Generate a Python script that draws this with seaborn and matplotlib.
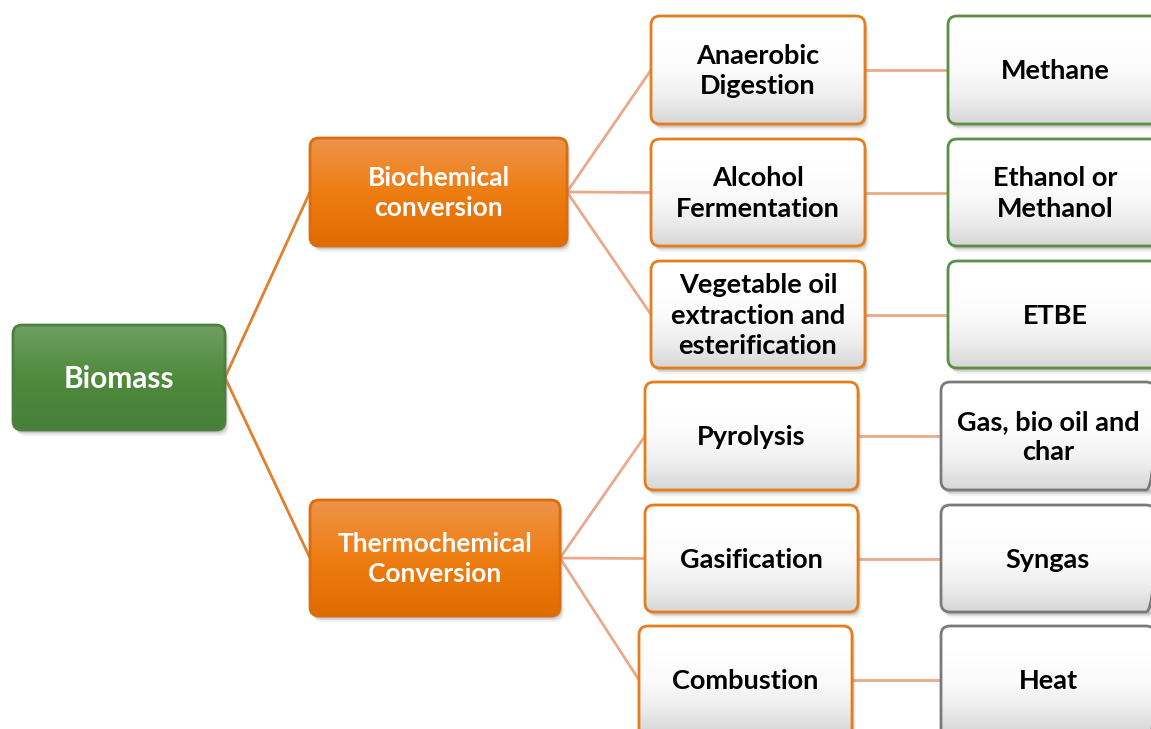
#!/usr/bin/env python3
"""Biomass conversion routes diagram"""

import numpy as np
import matplotlib
matplotlib.use('Agg')
import matplotlib.pyplot as plt
from matplotlib.patches import FancyBboxPatch
from matplotlib.colors import LinearSegmentedColormap
import seaborn as sns

# labels
root_label = 'Biomass'
route_labels = ['Biochemical\nconversion', 'Thermochemical\nConversion']
process_labels = ['Anaerobic\nDigestion', 'Alcohol\nFermentation',
                  'Vegetable oil\nextraction and\nesterification',
                  'Pyrolysis', 'Gasification', 'Combustion']
product_labels = ['Methane', 'Ethanol or\nMethanol', 'ETBE',
                  'Gas, bio oil and\nchar', 'Syngas', 'Heat']
process_route = [0, 0, 0, 1, 1, 1]

sns.set_theme(style='white')
plt.rcParams['font.family'] = ['Lato', 'DejaVu Sans']

W, H = 1151, 729
fig = plt.figure(figsize=(W / 100, H / 100), dpi=100)
ax = fig.add_axes([0, 0, 1, 1])
ax.set_xlim(0, W)
ax.set_ylim(H, 0)
ax.axis('off')

# box layout in pixel coords (x0, y0, x1, y1); last row runs off the page
root_box = (13, 325, 225, 430)
route_boxes = [(310, 138, 567, 246), (310, 500, 560, 616)]
process_boxes = [(651, 16, 865, 124), (651, 139, 865, 246), (651, 261, 865, 368),
                 (645, 382, 858, 490), (645, 505, 858, 612), (639, 626, 852, 750)]
product_boxes = [(948, 16, 1162, 124), (948, 139, 1162, 246), (948, 261, 1162, 368),
                 (941, 382, 1155, 490), (941, 505, 1155, 612), (941, 626, 1155, 750)]
CUT_Y = 734  # where the cut-off boxes would end, used for centring

GREEN_BORDER = '#5a8f47'
ORANGE_BORDER = '#e57d1c'
GRAY_BORDER = '#7a7a7a'


def centre_y(b):
    return (b[1] + min(b[3], CUT_Y)) / 2


def draw_box(b, top, bottom, edge, text, tcolor, fsize):
    x0, y0, x1, y1 = b
    w, h = x1 - x0, y1 - y0
    r = 9
    # soft shadow
    for k, a in [(6, 0.12), (4, 0.2), (2.5, 0.3)]:
        sh = FancyBboxPatch((x0 + k * 0.6, y0 + k), w, h,
                            boxstyle=f'round,pad=0,rounding_size={r}',
                            fc='#8a8a8a', ec='none', alpha=a, zorder=2)
        ax.add_patch(sh)
    patch = FancyBboxPatch((x0, y0), w, h, boxstyle=f'round,pad=0,rounding_size={r}',
                           fc='none', ec=edge, lw=2, zorder=4)
    ax.add_patch(patch)
    cmap = LinearSegmentedColormap.from_list('g', top + bottom)
    grad = np.linspace(0, 1, 256).reshape(-1, 1)
    ybot = min(y1, CUT_Y)
    im = ax.imshow(grad, cmap=cmap, aspect='auto', extent=(x0, x1, ybot, y0),
                   zorder=3, interpolation='bicubic')
    clip = FancyBboxPatch((x0, y0), w, h, boxstyle=f'round,pad=0,rounding_size={r}',
                          fc='none', ec='none', transform=ax.transData)
    ax.add_patch(clip)
    im.set_clip_path(clip)
    ax.text((x0 + x1) / 2, centre_y(b) + 1, text, ha='center', va='center',
            color=tcolor, fontsize=fsize, fontweight='bold', linespacing=1.32, zorder=5)


# connectors
rx, ry = root_box[2], centre_y(root_box)
for b in route_boxes:
    ax.plot([rx, b[0]], [ry, centre_y(b)], color='#e07f2e', lw=2, zorder=1)

for i, b in enumerate(process_boxes):
    rb = route_boxes[process_route[i]]
    ax.plot([rb[2], b[0]], [centre_y(rb), centre_y(b)], color='#eaa98a', lw=2, zorder=1)
    pb = product_boxes[i]
    ax.plot([b[2], pb[0]], [centre_y(b), centre_y(pb)], color='#eaa98a', lw=2, zorder=1)

white_top = ['#ffffff', '#ffffff', '#fbfbfb']
white_bot = ['#eeeeee', '#d6d6d6']

draw_box(root_box, ['#6fa062'], ['#4f8a3d', '#47803a'], '#4f7f3f', root_label, 'white', 21.5)
for b, t in zip(route_boxes, route_labels):
    draw_box(b, ['#ef944a'], ['#ee7d12', '#e06c00'], '#d96d10', t, 'white', 19)
for b, t in zip(process_boxes, process_labels):
    draw_box(b, white_top, white_bot, ORANGE_BORDER, t, 'black', 19.5)
for i, (b, t) in enumerate(zip(product_boxes, product_labels)):
    edge = GREEN_BORDER if i < 3 else GRAY_BORDER
    draw_box(b, white_top, white_bot, edge, t, 'black', 19.5)

plt.savefig('out.png', dpi=100)
